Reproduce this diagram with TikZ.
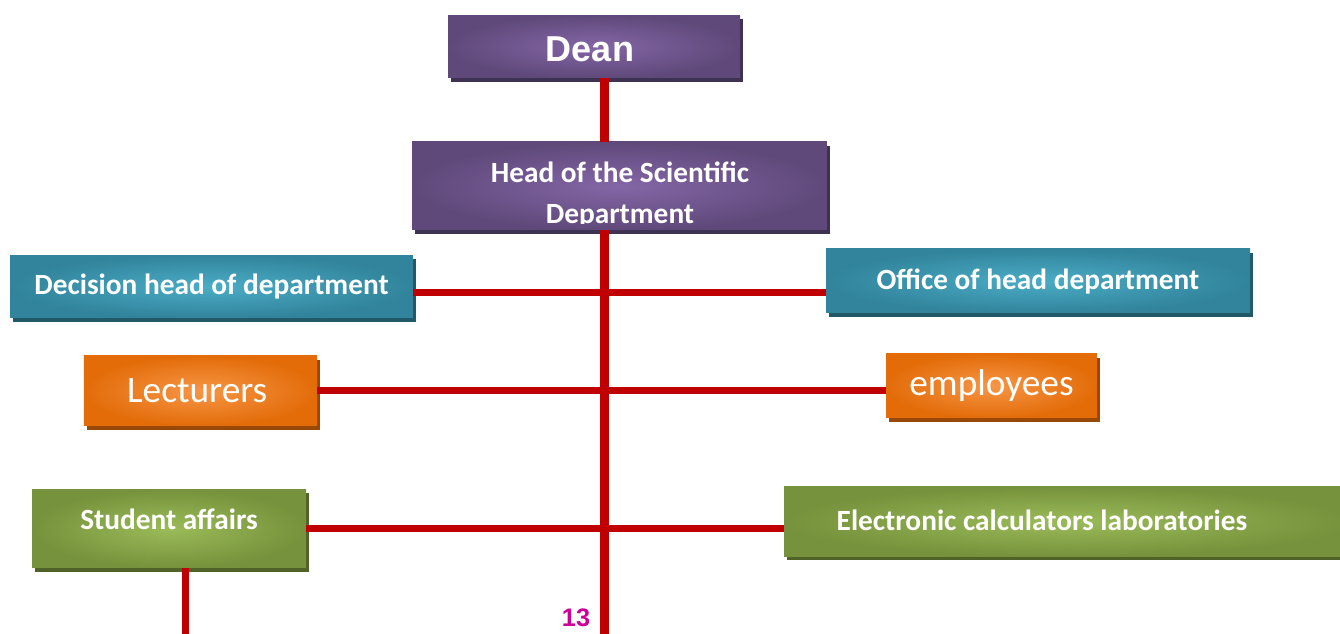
\documentclass[tikz,border=0pt]{standalone}
\usepackage{fontspec}
\setmainfont{Carlito}
\newfontfamily\arialfont{Liberation Sans}
\usetikzlibrary{shadows}

\definecolor{purplein}{HTML}{8466A6}
\definecolor{purpleout}{HTML}{5F497A}
\definecolor{purpleshade}{HTML}{3F3151}
\definecolor{tealin}{HTML}{4BACC6}
\definecolor{tealout}{HTML}{31849B}
\definecolor{tealshade}{HTML}{215968}
\definecolor{orangein}{HTML}{F79646}
\definecolor{orangeout}{HTML}{E36C09}
\definecolor{orangeshade}{HTML}{984807}
\definecolor{greenin}{HTML}{9BBB59}
\definecolor{greenout}{HTML}{76923C}
\definecolor{greenshade}{HTML}{4F6228}
\definecolor{linered}{HTML}{C00000}
\definecolor{pagenum}{HTML}{CC0099}

\begin{document}
\begin{tikzpicture}[x=0.75pt,y=-0.75pt,
  box/.style={rectangle,inner sep=0pt,text=white,font=\bfseries\fontsize{22}{26}\selectfont},
  shade/.style={drop shadow={shadow xshift=2.4pt,shadow yshift=-3pt,fill=#1,opacity=1}},
  purplebox/.style={box,inner color=purplein,outer color=purpleout,shade=purpleshade},
  tealbox/.style={box,inner color=tealin,outer color=tealout,shade=tealshade},
  orangebox/.style={box,inner color=orangein,outer color=orangeout,shade=orangeshade,
    font=\fontsize{28}{33}\selectfont},
  greenbox/.style={box,inner color=greenin,outer color=greenout,shade=greenshade},
  redline/.style={draw=linered,line width=5.25pt},
  trunkline/.style={redline,line width=6.75pt}]
  \useasboundingbox (0,0) rectangle (1340,634);

  % boxes
  \node[purplebox,minimum width=219pt,minimum height=47pt] (dean) at (594,46.5) {};
  \node[box,font=\arialfont\bfseries\fontsize{27}{32}\selectfont] (deantext) at (590,49) {Dean};
  \node[purplebox,minimum width=311pt,minimum height=66pt] (head) at (619.5,186) {};
  \begin{scope}
    % the second line is cut off inside the box
    \clip (head.north west) rectangle ([yshift=5.25pt]head.south east);
    \node[box,align=center,font=\bfseries\fontsize{22}{30.75}\selectfont] (headtext) at (620,195)
      {Head of the Scientific\\Department};
  \end{scope}
  \node[tealbox,minimum width=302pt,minimum height=47pt] (decision) at (211.5,286.5) {Decision head of department};
  \node[tealbox,minimum width=318pt,minimum height=48pt] (office) at (1038,281) {Office of head department};
  \node[orangebox,minimum width=175pt,minimum height=52.5pt,
    label={[box,font=\fontsize{28}{33}\selectfont,xshift=-2.5pt]center:Lecturers}] (lecturers) at (200.5,391) {};
  \node[orangebox,minimum width=158pt,minimum height=48pt] (employees) at (991.5,386) {employees};
  \node[greenbox,minimum width=205.5pt,minimum height=59pt,
    label={[box,yshift=7pt]center:Student affairs}] (student) at (169,528.5) {};
  \node[greenbox,minimum width=424.5pt,minimum height=52pt,
    label={[box,xshift=-18.75pt,yshift=1pt]center:Electronic calculators laboratories}] (electronic) at (1067,521.5) {};
  \node[font=\arialfont\bfseries\fontsize{19}{22}\selectfont,text=pagenum] (page) at (576,618) {13};

  % connectors
  \coordinate (trunkend) at (604,634);
  \coordinate (row1) at (604,293);
  \coordinate (row2) at (604,391);
  \coordinate (row3) at (604,529);
  \coordinate (studentend) at (185,634);
  \path (dean.south -| trunkend)  edge [trunkline] (head.north -| trunkend)
        (head.south -| trunkend)  edge [trunkline] (trunkend);
  \path (decision.east |- row1)   edge [redline] (office.west |- row1)
        (lecturers.east |- row2)  edge [redline] (employees.west |- row2)
        (student.east |- row3)    edge [redline] (electronic.west |- row3)
        (student.south -| studentend) edge [redline] (studentend);
\end{tikzpicture}
\end{document}
